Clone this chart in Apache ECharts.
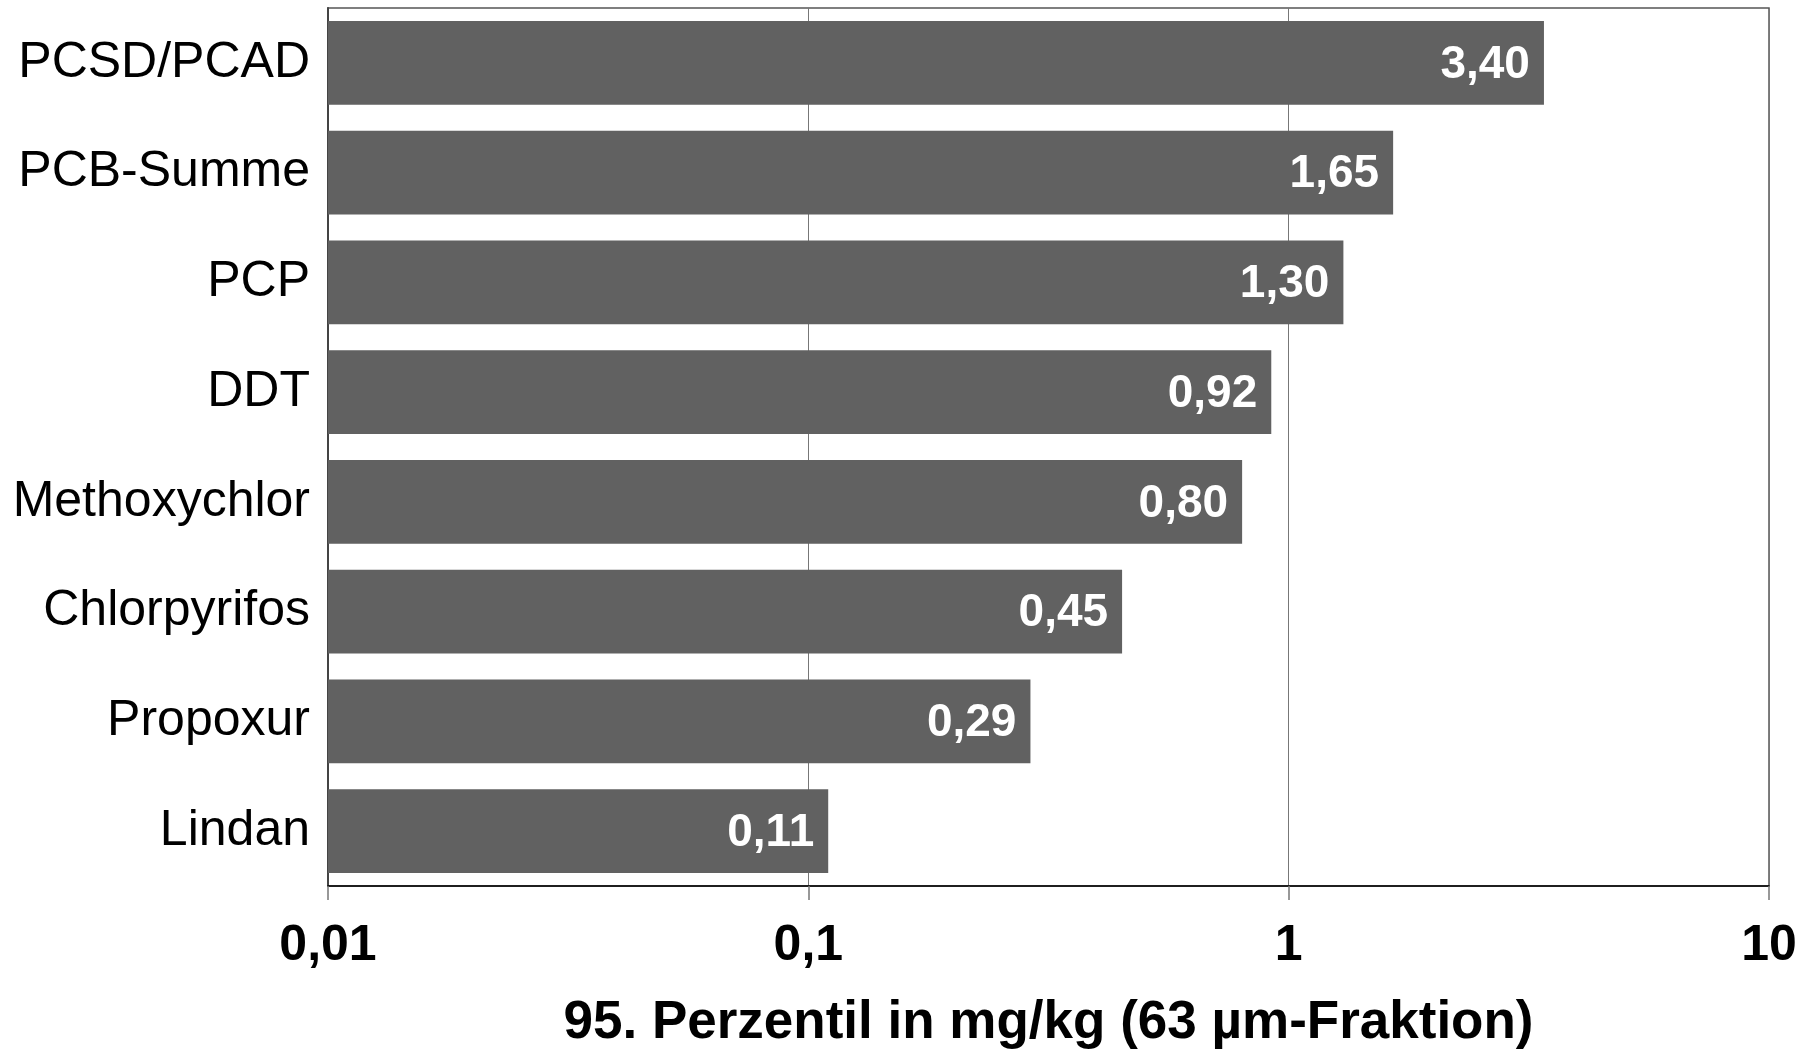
<!DOCTYPE html>
<html>
<head>
<meta charset="utf-8">
<script src="https://cdn.jsdelivr.net/npm/echarts@6/dist/echarts.min.js"></script>
<style>
html,body{margin:0;padding:0;background:#fff;}
#chart{width:1814px;height:1051px;}
</style>
</head>
<body>
<div id="chart"></div>
<script>
const categories = ['PCSD/PCAD','PCB-Summe','PCP','DDT','Methoxychlor','Chlorpyrifos','Propoxur','Lindan'];
const values = [3.40, 1.65, 1.30, 0.92, 0.80, 0.45, 0.29, 0.11];
const axisTitle = '95. Perzentil in mg/kg (63 µm-Fraktion)';
const xTicks = [0.01, 0.1, 1, 10];

const FONT = '"Liberation Sans", Arial, sans-serif';
const xMin = xTicks[0], xMax = xTicks[xTicks.length-1];
const fmt = v => v.toFixed(2).replace('.', ',');

const chart = echarts.init(document.getElementById('chart'), null, {renderer:'canvas'});
chart.setOption({
  animation:false,
  backgroundColor:'#ffffff',
  grid:{left:328,right:45,top:8,bottom:165,show:true,borderColor:'#555',borderWidth:1.5,
        containLabel:false, outerBoundsMode:'none'},
  xAxis:{
    type:'log', logBase:10, min:xMin, max:xMax,
    axisLine:{show:true,lineStyle:{color:'#000',width:1.5}},
    axisTick:{show:true,length:14,lineStyle:{color:'#777',width:1.5}},
    minorTick:{show:false},
    splitLine:{show:true,lineStyle:{color:'#777',width:1}},
    axisLabel:{
      margin:35, color:'#000', fontFamily:FONT, fontWeight:'bold', fontSize:50,
      formatter:function(v){ return String(v).replace('.',','); }
    },
    name:axisTitle, nameLocation:'middle', nameGap:111,
    nameTextStyle:{color:'#000',fontFamily:FONT,fontWeight:'bold',fontSize:53}
  },
  yAxis:{
    type:'category', data:categories, inverse:true,
    axisLine:{show:true,lineStyle:{color:'#444',width:2}},
    axisTick:{show:false},
    splitLine:{show:false},
    axisLabel:{margin:18,color:'#000',fontFamily:FONT,fontSize:50,padding:[3,0,0,0]}
  },
  series:[{
    type:'custom',
    encode:{x:0, y:1},
    data: values.map((v,i)=>[v,i]),
    renderItem:function(params, api){
      const cat = api.value(1), val = api.value(0);
      const s = api.coord([xMin, cat]);
      const e = api.coord([val, cat]);
      const h = api.size([0,1])[1]*0.765;
      return {
        type:'group',
        children:[
          {type:'rect', shape:{x:s[0], y:s[1]-h/2, width:e[0]-s[0], height:h}, style:{fill:'#616161'}},
          {type:'text', style:{text:fmt(val), x:e[0]-14, y:e[1]+2, align:'right', verticalAlign:'middle',
            fill:'#fff', font:'bold 46px "Liberation Sans", Arial, sans-serif'}}
        ]
      };
    }
  }]
});
</script>
</body>
</html>
